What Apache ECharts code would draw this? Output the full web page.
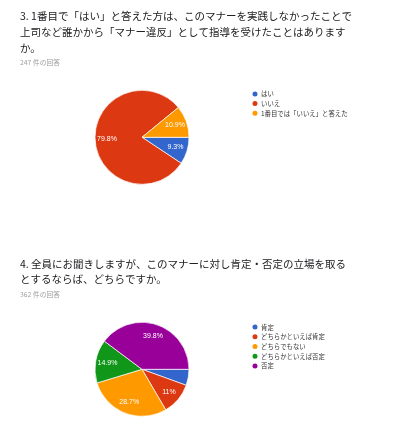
<!DOCTYPE html>
<html><head><meta charset="utf-8">
<script src="https://cdn.jsdelivr.net/npm/echarts@6/dist/echarts.min.js"></script>
<style>html,body{margin:0;padding:0;background:#fff}#c{width:400px;height:426px}</style>
</head><body><div id="c"></div>
<script>
const colors = ['#3366cc','#dc3912','#ff9900','#109618','#990099'];
const q3Title = '3. 1番目で「はい」と答えた方は、このマナーを実践しなかったことで\n上司など誰かから「マナー違反」として指導を受けたことはありますす\nか。'.replace('ありますす','あります');
const q3Sub = '247 件の回答';
const q3Categories = ['はい','いいえ','1番目では「いいえ」と答えた'];
const q3Values = [23,197,27];
const q4Title = '4. 全員にお聞きしますが、このマナーに対し肯定・否定の立場を取る\nとするならば、どちらですか。';
const q4Sub = '362 件の回答';
const q4Categories = ['肯定','どちらかといえば肯定','どちらでもない','どちらかといえば否定','否定'];
const q4Values = [20,40,104,54,144];

const FONT = '"Noto Sans CJK JP", sans-serif';
function mkData(cats, vals){ return cats.map((n,i)=>({name:n, value:vals[i], itemStyle:{color:colors[i]}})); }
function pctLabel(vals){
  const tot = vals.reduce((a,b)=>a+b,0);
  return p => {
    const v = Math.round(p.value/tot*1000)/10;
    if (v < 6) return '';
    return (v % 1 === 0 ? v.toFixed(0) : v.toFixed(1)) + '%';
  };
}
function pies(cats, vals, cy){
  return [
    {type:'pie', center:[142, cy], radius:[0,47], startAngle:0, clockwise:true,
     data:mkData(cats, vals), label:{show:false}, labelLine:{show:false},
     itemStyle:{borderColor:'#fff', borderWidth:0.7}, emphasis:{disabled:true}, silent:true, animation:false},
    {type:'pie', center:[142, cy], radius:[0,64], startAngle:0, clockwise:true,
     data:cats.map((n,i)=>({name:n, value:vals[i], itemStyle:{color:'rgba(0,0,0,0)'}})),
     label:{show:true, position:'inside', color:'#fff', fontSize:7, fontFamily:'Arial, "Liberation Sans", sans-serif', formatter:pctLabel(vals)},
     labelLine:{show:false}, emphasis:{disabled:true}, silent:true, animation:false, z:3}
  ];
}
function legend(cats, top){
  return {orient:'vertical', left:250.5, top:top, padding:0, icon:'circle', itemWidth:7, itemHeight:7, itemGap:0.7,
    selectedMode:false, data:cats.map((n,i)=>({name:n, itemStyle:{color:colors[i]}})),
    textStyle:{fontSize:6.4, color:'#333', fontFamily:FONT, lineHeight:7, padding:[0,0,0,-2.5]}};
}
const chart = echarts.init(document.getElementById('c'), null, {renderer:'canvas'});
chart.setOption({
  animation:false,
  title:[
    {text:q3Title, left:20, top:8, padding:0, textStyle:{fontSize:10.5, fontWeight:'normal', color:'#202124', fontFamily:FONT, lineHeight:16}},
    {text:q3Sub, left:20, top:58.5, padding:0, textStyle:{fontSize:6.8, fontWeight:'normal', color:'#9e9e9e', fontFamily:FONT, lineHeight:7}},
    {text:q4Title, left:20, top:256, padding:0, textStyle:{fontSize:10.5, fontWeight:'normal', color:'#202124', fontFamily:FONT, lineHeight:15.5}},
    {text:q4Sub, left:20, top:290.5, padding:0, textStyle:{fontSize:6.8, fontWeight:'normal', color:'#9e9e9e', fontFamily:FONT, lineHeight:7}}
  ],
  legend:[legend(q3Categories, 89.4), legend(q4Categories, 322.6)],
  series:[...pies(q3Categories, q3Values, 137.3), ...pies(q4Categories, q4Values, 369.3)]
});
</script></body></html>
